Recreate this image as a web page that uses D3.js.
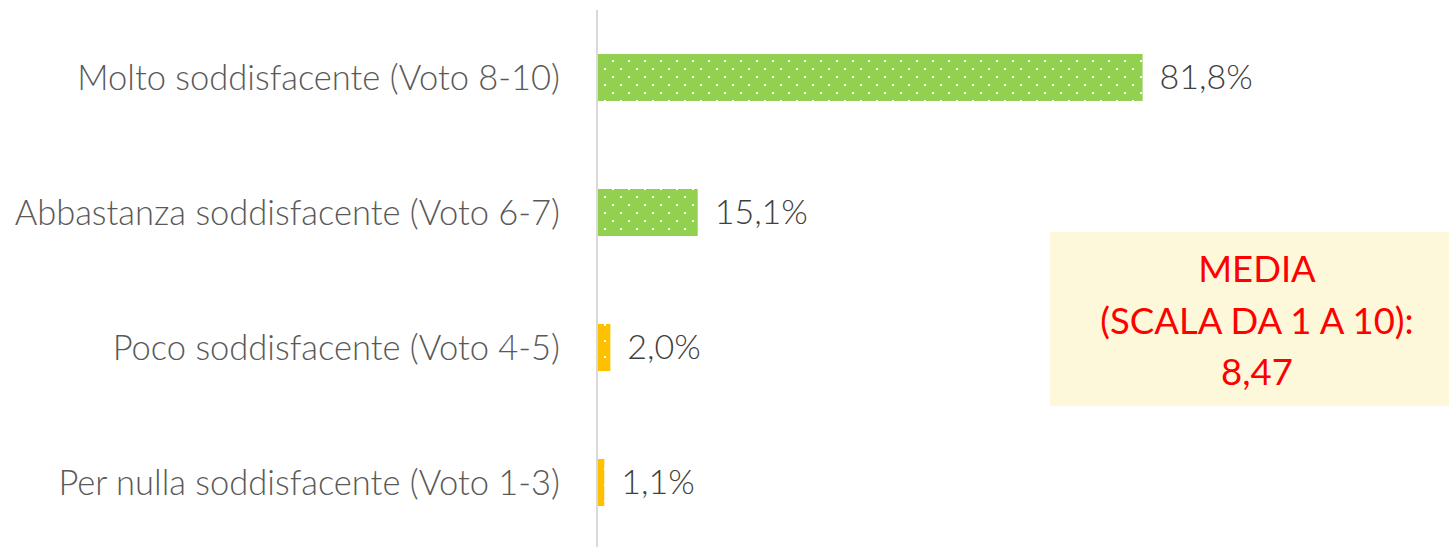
<!DOCTYPE html>
<html>
<head>
<meta charset="utf-8">
<script src="https://cdn.jsdelivr.net/npm/d3@7"></script>
<style>
  body { margin: 0; background: #fff; }
  svg { display: block; }
  .cat { font-family: Lato, "Open Sans", sans-serif; font-weight: 300; fill: #595959; }
  .val { font-family: Lato, "Open Sans", sans-serif; font-weight: 300; fill: #404040; }
  .media { font-family: Lato, "Open Sans", sans-serif; fill: #ff0000; }
</style>
</head>
<body>
<svg id="chart"></svg>
<script>
// categories top -> bottom, values in %
const categories = [
  "Molto soddisfacente (Voto 8-10)",
  "Abbastanza soddisfacente (Voto 6-7)",
  "Poco soddisfacente (Voto 4-5)",
  "Per nulla soddisfacente (Voto 1-3)"
];
const values = [81.8, 15.1, 2.0, 1.1];
const mediaLines = ["MEDIA", "(SCALA DA 1 A 10):", "8,47"];

const width = 1449;
const height = 547;

const svg = d3.select("#chart")
  .attr("width", width)
  .attr("height", height);

// dotted fills like the office "small grid" pattern
const defs = svg.append("defs");
function dotPattern(id, color) {
  const p = defs.append("pattern")
    .attr("id", id)
    .attr("patternUnits", "userSpaceOnUse")
    .attr("width", 16)
    .attr("height", 16)
    .attr("x", 612)
    .attr("y", 60);
  p.append("rect").attr("width", 16).attr("height", 16).attr("fill", color);
  p.append("rect").attr("x", 0).attr("y", 0).attr("width", 2).attr("height", 2).attr("fill", "#fff");
  p.append("rect").attr("x", 8).attr("y", 8).attr("width", 2).attr("height", 2).attr("fill", "#fff");
}
dotPattern("dotGreen", "#92d050");
dotPattern("dotOrange", "#ffc000");

const fillFor = d3.scaleOrdinal()
  .domain(categories)
  .range(["url(#dotGreen)", "url(#dotGreen)", "url(#dotOrange)", "url(#dotOrange)"]);

const x = d3.scaleLinear()
  .domain([0, 100])
  .range([597, 597 + 667]);

const y = d3.scaleBand()
  .domain(categories)
  .range([10, 550])
  .paddingInner(0.652)
  .paddingOuter(0.326);

// bars
svg.append("g")
  .selectAll("rect")
  .data(values)
  .enter()
  .append("rect")
  .attr("x", x(0))
  .attr("y", (d, i) => y(categories[i]))
  .attr("width", (d) => x(d) - x(0))
  .attr("height", y.bandwidth())
  .attr("fill", (d, i) => fillFor(categories[i]));

// vertical axis line
svg.append("line")
  .attr("x1", x(0)).attr("x2", x(0))
  .attr("y1", 10).attr("y2", height)
  .attr("stroke", "#d9d9d9")
  .attr("stroke-width", 2);

// category labels
svg.append("g")
  .selectAll("text")
  .data(categories)
  .enter()
  .append("text")
  .attr("class", "cat")
  .attr("x", x(0) - 37)
  .attr("y", (d) => y(d) + y.bandwidth() / 2)
  .attr("dy", "0.35em")
  .attr("text-anchor", "end")
  .style("font-size", "34.5px")
  .text((d) => d);

// value labels
svg.append("g")
  .selectAll("text")
  .data(values)
  .enter()
  .append("text")
  .attr("class", "val")
  .attr("x", (d) => x(d) + 17)
  .attr("y", (d, i) => y(categories[i]) + y.bandwidth() / 2)
  .attr("dy", "0.35em")
  .style("font-size", "34px")
  .text((d) => d3.format(".1f")(d).replace(".", ",") + "%");

// media box
const box = svg.append("g");
box.append("rect")
  .attr("x", 1050).attr("y", 232)
  .attr("width", width - 1050).attr("height", 174)
  .attr("fill", "#fdf8da");
box.selectAll("text")
  .data(mediaLines)
  .enter()
  .append("text")
  .attr("class", "media")
  .attr("x", 1257)
  .attr("y", (d, i) => 282 + i * 51.5)
  .attr("text-anchor", "middle")
  .style("font-size", "36.5px")
  .text((d) => d);
</script>
</body>
</html>
